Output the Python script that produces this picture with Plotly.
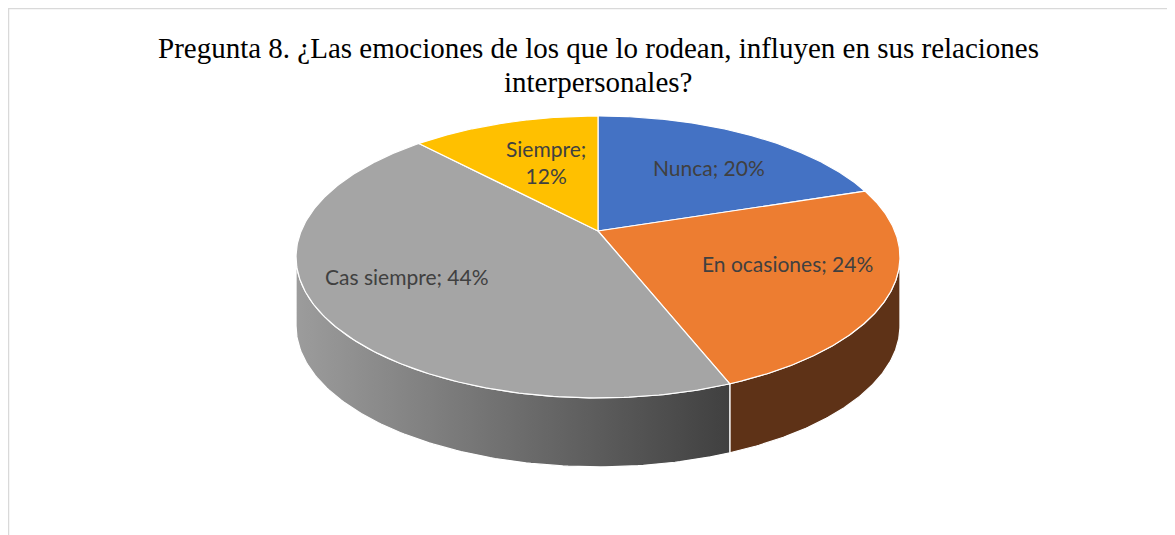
import numpy as np
import plotly.graph_objects as go

# ---- data ----
categories = ["Nunca", "En ocasiones", "Cas siempre", "Siempre"]
values = [20, 24, 44, 12]
label_texts = ["Nunca; 20%", "En ocasiones; 24%", "Cas siempre; 44%", "Siempre;<br>12%"]
title_lines = ["Pregunta 8. ¿Las emociones de los que lo rodean, influyen en sus relaciones",
               "interpersonales?"]

# ---- style ----
top_colors = ["#4472C4", "#ED7D31", "#A5A5A5", "#FFC000"]
side_colors = ["#2B4878", "#5E3217", "#777777", "#9C7400"]
gray_side_gradient = [[0, "#9C9C9C"], [1, "#404040"]]
label_radius = [0.70, 0.67, 0.71, 0.52]
label_nudge = [6, -9, -10, -9]

W, H = 1175, 535
OFF = 8                    # page body margin
CX, CY = 598, 231          # projected centre of the pie (page pixels)
S, C, K = 296.8, 136.2, 0.184   # horizontal scale, vertical scale, perspective factor
DEPTH = 69


def proj(t, f=1.0):
    u = f * np.cos(t)
    v = f * np.sin(t)
    w = 1 + K * v
    return CX + S * u / w, CY - C * v / w


total = float(sum(values))
fracs = [v / total for v in values]
starts, ends = [], []
t = np.pi / 2
for fr in fracs:
    starts.append(t)
    t = t - 2 * np.pi * fr
    ends.append(t)

front_hi = -np.arcsin(K)
front_lo = -np.pi + np.arcsin(K)

fig = go.Figure()

# sides
for i, cat in enumerate(categories):
    a_hi, a_lo = starts[i], ends[i]
    for shift in (-2 * np.pi, 0, 2 * np.pi):
        hi = min(a_hi, front_hi + shift)
        lo = max(a_lo, front_lo + shift)
        if hi - lo > 1e-6:
            ts = np.linspace(hi, lo, 120)
            x, y = proj(ts)
            xs = np.concatenate([x, x[::-1], x[:1]])
            ys = np.concatenate([y, (y + DEPTH)[::-1], y[:1]])
            kw = dict(fillcolor=side_colors[i])
            if cat == "Cas siempre":
                kw = dict(fillgradient=dict(type="horizontal", colorscale=gray_side_gradient))
            fig.add_trace(go.Scatter(x=xs, y=ys, mode="lines", fill="toself",
                                     line=dict(color="white", width=1.2),
                                     hoverinfo="skip", showlegend=False, **kw))

# top faces
for i, cat in enumerate(categories):
    ts = np.linspace(starts[i], ends[i], 200)
    x, y = proj(ts)
    xs = np.concatenate([[CX], x, [CX]])
    ys = np.concatenate([[CY], y, [CY]])
    fig.add_trace(go.Scatter(x=xs, y=ys, mode="lines", fill="toself",
                             fillcolor=top_colors[i],
                             line=dict(color="white", width=1.2),
                             name=cat, hoverinfo="name", showlegend=False))

# data labels
for i, cat in enumerate(categories):
    mid = (starts[i] + ends[i]) / 2
    lx, ly = proj(mid, label_radius[i])
    fig.add_annotation(x=lx, y=ly + label_nudge[i], text=label_texts[i], showarrow=False,
                       font=dict(family="Lato", size=21, color="#404040"),
                       xanchor="center", yanchor="middle")

# title (two lines, Excel-like spacing)
for j, line in enumerate(title_lines):
    fig.add_annotation(x=598, y=48 + 34 * j, text=line, showarrow=False,
                       font=dict(family="Liberation Serif", size=29, color="#000000"),
                       xanchor="center", yanchor="middle")

fig.add_shape(type="rect", x0=8.5, y0=8.5, x1=W + 10, y1=H + 10,
              line=dict(color="#D9D9D9", width=1.5))

fig.update_layout(
    width=W - OFF, height=H - OFF,
    margin=dict(l=0, r=0, t=0, b=0),
    paper_bgcolor="white", plot_bgcolor="white",
    xaxis=dict(range=[OFF, W], visible=False, fixedrange=True),
    yaxis=dict(range=[H, OFF], visible=False, fixedrange=True),
    showlegend=False,
)

fig.write_html("out.html")
